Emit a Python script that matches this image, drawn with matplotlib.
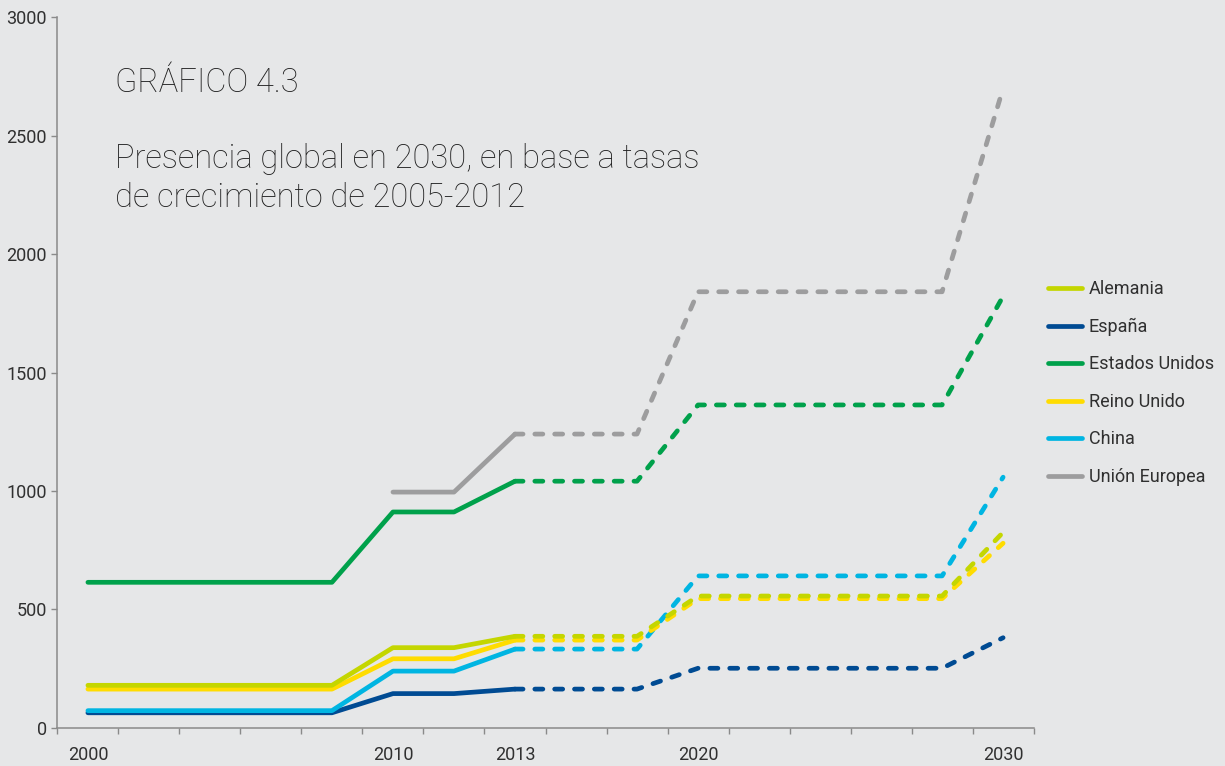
import matplotlib
matplotlib.use("Agg")
import matplotlib.pyplot as plt
import numpy as np

# ---- data ----
categories = ["2000", "", "", "", "", "2010", "", "2013", "", "", "2020", "", "", "", "", "2030"]
series_names = ["Alemania", "España", "Estados Unidos", "Reino Unido", "China", "Unión Europea"]
alemania = [179, 179, 179, 179, 179, 338, 338, 386, 386, 386, 556, 556, 556, 556, 556, 825]
espana = [63, 63, 63, 63, 63, 144, 144, 163, 163, 163, 251, 251, 251, 251, 251, 380]
estados_unidos = [614, 614, 614, 614, 614, 911, 911, 1041, 1041, 1041, 1363, 1363, 1363, 1363, 1363, 1822]
reino_unido = [163, 163, 163, 163, 163, 291, 291, 370, 370, 370, 545, 545, 545, 545, 545, 779]
china = [72, 72, 72, 72, 72, 239, 239, 332, 332, 332, 641, 641, 641, 641, 641, 1058]
union_europea = [None, None, None, None, None, 995, 995, 1240, 1240, 1240, 1841, 1841, 1841, 1841, 1841, 2700]
last_observed = "2013"  # solid up to here, projection (dashed) after

colors = {
    "Alemania": "#c4d600",
    "España": "#004b93",
    "Estados Unidos": "#00a14b",
    "Reino Unido": "#ffdc00",
    "China": "#00b5e2",
    "Unión Europea": "#9d9d9e",
}
values = {
    "Alemania": alemania,
    "España": espana,
    "Estados Unidos": estados_unidos,
    "Reino Unido": reino_unido,
    "China": china,
    "Unión Europea": union_europea,
}

BG = "#e6e7e8"
TXT = "#303030"
TITLE = "#1f1f1f"
AX = "#8a8a8a"
FONT = "Roboto"

plt.rcParams["font.family"] = [FONT, "DejaVu Sans"]

fig = plt.figure(figsize=(12.25, 7.66), dpi=100, facecolor=BG)
ax = fig.add_axes([0.04686, 0.05, 0.7969, 0.9274])
ax.set_facecolor(BG)

x = np.arange(1, len(categories) + 1)
split = categories.index(last_observed)
lw = 3.4

draw_order = ["Unión Europea", "Estados Unidos", "España", "China", "Reino Unido", "Alemania"]
handles = {}
for name in draw_order:
    y = np.array([np.nan if v is None else v for v in values[name]], dtype=float)
    c = colors[name]
    h, = ax.plot(x[:split + 1], y[:split + 1], color=c, lw=lw,
                 solid_capstyle="round", solid_joinstyle="round", label=name)
    ax.plot(x[split:], y[split:], color=c, lw=lw, dashes=(1.7, 2.5),
            dash_capstyle="round", dash_joinstyle="round")
    handles[name] = h

ax.set_xlim(0.5, len(categories) + 0.5)
ax.set_ylim(0, 3000)
ax.set_yticks(np.arange(0, 3001, 500))
ax.set_xticks(x)
ax.set_xticklabels(categories)
ax.set_xticks(np.arange(0.5, len(categories) + 1, 1.0), minor=True)

for s in ["top", "right"]:
    ax.spines[s].set_visible(False)
for s in ["left", "bottom"]:
    ax.spines[s].set_color(AX)
    ax.spines[s].set_linewidth(1.1)

ax.tick_params(axis="x", which="major", length=0, pad=13, labelsize=13,
               labelcolor=TXT)
ax.tick_params(axis="x", which="minor", length=4, width=1.0, color=AX, direction="out")
ax.tick_params(axis="y", which="major", length=4, width=1.0, color=AX, pad=3.5,
               labelsize=13, labelcolor=TXT)

# titles
tkw = dict(fontsize=23.5, color=TITLE, fontweight="light", ha="left", va="baseline")
fig.text(0.0939, 1 - 92 / 766, "GRÁFICO 4.3", **tkw)
fig.text(0.0939, 1 - 168 / 766, "Presencia global en 2030, en base a tasas", **tkw)
fig.text(0.0939, 1 - 207 / 766, "de crecimiento de 2005-2012", **tkw)

leg = fig.legend([handles[n] for n in series_names], series_names,
                 loc="center left", bbox_to_anchor=(0.8555, 1 - 383 / 766),
                 frameon=False, handlelength=1.9,
                 handletextpad=0.36, labelspacing=1.08, borderpad=0,
                 borderaxespad=0, labelcolor=TXT,
                 prop={"family": [FONT, "DejaVu Sans"], "size": 13.0})

fig.savefig("out.png", dpi=100, facecolor=BG)
